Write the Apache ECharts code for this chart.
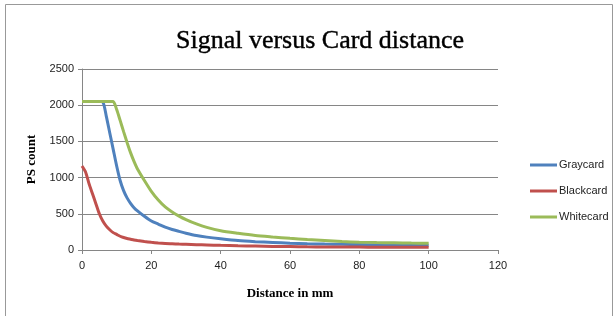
<!DOCTYPE html>
<html>
<head>
<meta charset="utf-8">
<script src="https://cdn.jsdelivr.net/npm/echarts@6/dist/echarts.min.js"></script>
<style>html,body{margin:0;padding:0;background:#fff;}#c{width:616px;height:316px;}</style>
</head>
<body>
<div id="c"></div>
<script>
var distance = [0,1,2,3,4,5,6,7,8,9,10,11,12,13,14,15,16,18,20,22,24,26,28,30,33,36,40,45,50,55,60,65,70,75,80,85,90,95,100];
var graycard = [2050,2050,2050,2050,2050,2050,2045,1850,1620,1390,1160,960,820,720,645,585,540,465,400,358,315,283,257,232,200,178,155,130,115,104,94,87,82,78,75,72,70,67,65];
var blackcard = [1160,1080,920,780,640,500,400,330,280,240,215,190,172,158,148,138,130,117,106,97,90,86,82,79,74,70,64,58,54,50,47,44,42,40,40,39,38,38,37];
var whitecard = [2050,2050,2050,2050,2050,2050,2050,2050,2050,2050,1940,1790,1635,1485,1345,1225,1120,960,810,690,595,525,468,420,360,312,265,230,200,180,162,145,130,116,108,103,99,95,92];
var seriesNames = ['Graycard','Blackcard','Whitecard'];
var seriesColors = ['#4F81BD','#C0504D','#9BBB59'];
var xTicks = [0,20,40,60,80,100,120];
var yTicks = [0,500,1000,1500,2000,2500];

function pairs(ys){ return distance.map(function(d,i){ return [d, ys[i]]; }); }
var allData = [graycard, blackcard, whitecard];

var chart = echarts.init(document.getElementById('c'), null, {renderer:'canvas'});
chart.setOption({
  animation: false,
  backgroundColor: '#fff',
  title: {
    text: 'Signal versus Card distance',
    left: 315, top: 23, textAlign: 'center',
    textStyle: {fontFamily: 'Liberation Serif', fontSize: 26, fontWeight: 'normal', color: '#000', textBorderColor: '#000', textBorderWidth: 0.4}
  },
  graphic: [{
    type: 'rect', shape: {x: 5.5, y: 4.5, width: 607, height: 320},
    style: {fill: 'none', stroke: '#999', lineWidth: 1}, silent: true
  }],
  legend: {
    orient: 'vertical', left: 525, top: 153,
    itemWidth: 27, itemHeight: 3, itemGap: 12, icon: 'rect',
    data: seriesNames,
    textStyle: {fontFamily: 'Liberation Sans', fontSize: 11, color: '#222', lineHeight: 14, padding: [0,0,0,-3]}
  },
  grid: {left: 82, right: 118, top: 69, bottom: 66},
  xAxis: {
    type: 'value', min: xTicks[0], max: xTicks[xTicks.length-1], interval: 20,
    name: 'Distance in mm', nameLocation: 'middle', nameGap: 37,
    nameTextStyle: {fontFamily: 'Liberation Serif', fontSize: 13, fontWeight: 'bold', color: '#000'},
    axisLine: {show: true, lineStyle: {color: '#868686', width: 1}},
    axisTick: {show: true, length: 4, inside: false, lineStyle: {color: '#868686'}},
    axisLabel: {fontFamily: 'Liberation Sans', fontSize: 11, color: '#222', margin: 10, formatter: function(v){ return String(v); }},
    splitLine: {show: false}
  },
  yAxis: {
    type: 'value', min: yTicks[0], max: yTicks[yTicks.length-1], interval: 500,
    name: 'PS count', nameLocation: 'middle', nameGap: 44, nameRotate: 90,
    nameTextStyle: {fontFamily: 'Liberation Serif', fontSize: 13, fontWeight: 'bold', color: '#000'},
    axisLine: {show: true, lineStyle: {color: '#868686', width: 1}},
    axisTick: {show: true, length: 4, inside: false, lineStyle: {color: '#868686'}},
    axisLabel: {fontFamily: 'Liberation Sans', fontSize: 11, color: '#222', margin: 8, formatter: function(v){ return String(v); }},
    splitLine: {show: true, lineStyle: {color: '#868686', width: 1}}
  },
  series: seriesNames.map(function(n, i){
    return {
      name: n, type: 'line', data: pairs(allData[i]), smooth: 0.25,
      showSymbol: false, symbol: 'none',
      lineStyle: {color: seriesColors[i], width: 3},
      itemStyle: {color: seriesColors[i]}
    };
  })
});
</script>
</body>
</html>
